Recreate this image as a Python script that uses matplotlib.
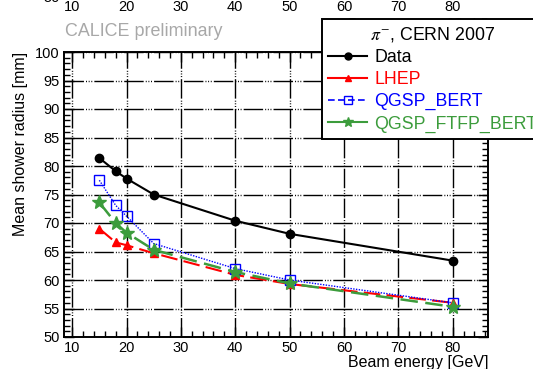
import matplotlib
matplotlib.use('Agg')
import matplotlib.pyplot as plt
from matplotlib.lines import Line2D
from matplotlib.ticker import MultipleLocator

plt.rcParams['font.family'] = ['Liberation Sans', 'DejaVu Sans']
plt.rcParams['mathtext.fontset'] = 'stix'

# beam energies [GeV] and mean shower radius [mm]
energy = [15, 18, 20, 25, 40, 50, 80]
data_radius = [81.4, 79.1, 77.8, 75.0, 70.4, 68.1, 63.4]
lhep_radius = [69.0, 66.6, 66.1, 64.7, 60.9, 59.3, 56.0]
qgsp_bert_radius = [77.5, 73.1, 71.2, 66.4, 62.0, 60.0, 56.0]
qgsp_ftfp_bert_radius = [73.6, 70.0, 68.3, 65.3, 61.4, 59.4, 55.3]

labels = ['Data', 'LHEP', 'QGSP_BERT', 'QGSP_FTFP_BERT']
colors = ['black', '#ff0000', '#0000ff', '#3c9c3c']

W, H = 533, 369
fig = plt.figure(figsize=(W / 100, H / 100), dpi=100)

# ROOT-ish grid: long dash followed by a few dots
grid_style = (0, (14, 1.5, 0.7, 1.2, 0.7, 1.2, 0.7, 1.5))


def style_axes(ax, pad):
    ax.set_xlim(8.5, 86.5)
    ax.set_ylim(50, 100)
    ax.xaxis.set_major_locator(MultipleLocator(10))
    ax.xaxis.set_minor_locator(MultipleLocator(2))
    ax.yaxis.set_major_locator(MultipleLocator(5))
    ax.yaxis.set_minor_locator(MultipleLocator(1))
    ax.tick_params(which='both', direction='in', top=True, right=True,
                   labelsize=10.5, width=1.0, pad=3)
    ax.tick_params(which='major', length=7)
    ax.tick_params(which='minor', length=4)
    for s in ax.spines.values():
        s.set_linewidth(1.4)
    ax.grid(True, which='major', color='black', linewidth=1.0, linestyle=grid_style)
    ax.set_xlabel('Beam energy [GeV]', loc='right', fontsize=11.5, labelpad=pad)


# the panel above, only its bottom tick labels peek into the picture
ax_up = fig.add_axes([64 / W, (H + 4) / H, 424 / W, 0.8])
style_axes(ax_up, 3)
ax_up.set_zorder(0)

ax = fig.add_axes([64 / W, 32 / H, 424 / W, 285 / H])
style_axes(ax, 0)
ax.set_zorder(2)
ax.set_ylabel('Mean shower radius [mm]', loc='top', fontsize=11.5, labelpad=5)

ax.plot(energy, data_radius, color=colors[0], lw=1.5, marker='o', ms=6)
ax.plot(energy, lhep_radius, color=colors[1], lw=1.5, ls=(0, (8, 3)),
        marker='^', ms=6)
ax.plot(energy, qgsp_bert_radius, color=colors[2], lw=1.0, ls=(0, (1, 1)),
        marker='s', ms=7, mfc='none', mew=1.0)
ax.plot(energy, qgsp_ftfp_bert_radius, color=colors[3], lw=1.8, ls=(0, (7, 3)),
        marker='*', ms=10)

fig.text(65 / W, 1 - 32 / H, 'CALICE preliminary', color='#a8a8a8',
         fontsize=12.9, va='center', ha='left')

handles = [
    Line2D([], [], color=colors[0], lw=1.5, marker='o', ms=5),
    Line2D([], [], color=colors[1], lw=1.5, marker='^', ms=5),
    Line2D([], [], color=colors[2], lw=1.2, ls=(0, (4, 2)), marker='s', ms=6,
           mfc='none'),
    Line2D([], [], color=colors[3], lw=1.5, marker='*', ms=7),
]
leg = ax.legend(handles, labels, loc='upper left',
                bbox_to_anchor=(322 / W, 1 - 19 / H), bbox_transform=fig.transFigure,
                borderaxespad=0, fancybox=False, framealpha=1, edgecolor='black',
                fontsize=12.8, title=r'$\pi^{-}$, CERN 2007', title_fontsize=12.8,
                handlelength=2.2, handletextpad=0.4, labelspacing=0.28,
                borderpad=0.35, labelcolor=colors)
leg.get_frame().set_linewidth(1.4)

fig.savefig('out.png', dpi=100)
